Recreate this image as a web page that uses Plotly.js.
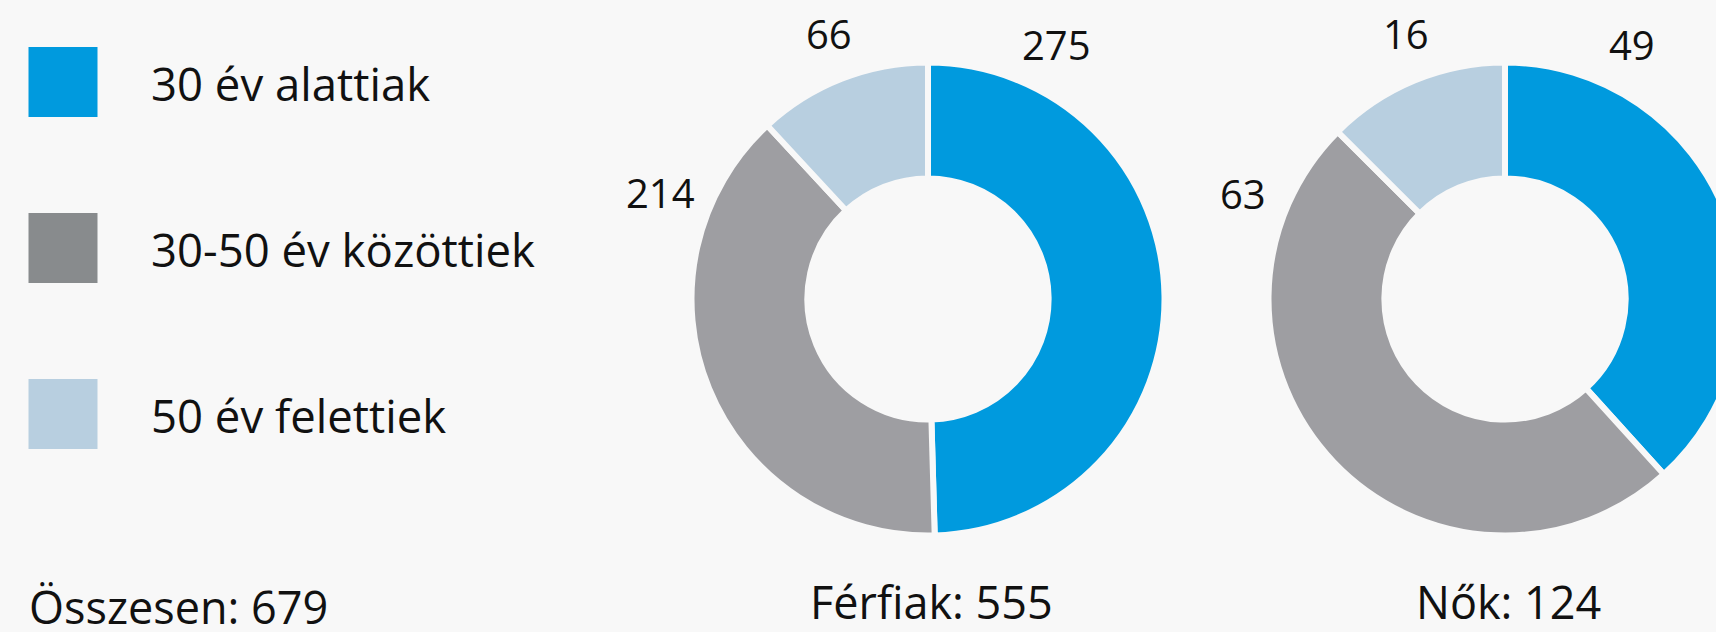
<!DOCTYPE html>
<html>
<head>
<meta charset="utf-8">
<script src="https://cdn.plot.ly/plotly-3.0.1.min.js"></script>
<style>
  html, body { margin: 0; padding: 0; background: #F8F8F8; overflow: hidden; width: 1716px; height: 632px; }
  #chart { width: 1800px; height: 632px; }
</style>
</head>
<body>
<div id="chart"></div>
<script>
// ---- data ----
const categories = ['30 év alattiak', '30-50 év közöttiek', '50 év felettiek'];
const maleValues = [275, 214, 66];
const femaleValues = [49, 63, 16];
const groupNames = ['Férfiak', 'Nők'];
const groupTotals = [555, 124];
const overallLabel = 'Összesen';
const overallTotal = 679;
const sliceColors = ['#009ADE', '#9E9EA2', '#B8CFE0'];
const legendColors = ['#009ADE', '#888B8D', '#B8CFE0'];

// ---- layout helpers (pixel -> paper) ----
const W = 1800, H = 632;
const px = x => x / W;
const py = y => 1 - y / H;
const FONT = '"Open Sans", "Noto Sans", sans-serif';
const TXT = '#111111';
const BG = '#F8F8F8';

const R = 236.5, HOLE = 0.51;
const centers = [[928, 299], [1505, 299]];
function domainFor(c) {
  return { x: [px(c[0] - R), px(c[0] + R)], y: [py(c[1] + R), py(c[1] - R)] };
}

const groupValues = [maleValues, femaleValues];
const traces = groupValues.map((vals, i) => ({
  type: 'pie',
  values: vals,
  labels: categories,
  hole: HOLE,
  sort: false,
  direction: 'clockwise',
  rotation: 0,
  textinfo: 'none',
  hoverinfo: 'label+value',
  showlegend: false,
  marker: { colors: sliceColors, line: { color: BG, width: 6 } },
  domain: domainFor(centers[i])
}));

// value label positions (pixel centres), per group, per category
const labelPos = [
  [[1056, 45], [660, 193], [829, 35]],
  [[1632, 45], [1243, 194], [1406, 35]]
];

const annotations = [];
groupValues.forEach((vals, g) => {
  vals.forEach((v, k) => {
    annotations.push({
      xref: 'paper', yref: 'paper',
      x: px(labelPos[g][k][0]), y: py(labelPos[g][k][1] - 1),
      xanchor: 'center', yanchor: 'middle',
      text: String(v), showarrow: false,
      font: { family: FONT, size: 40, color: TXT }
    });
  });
  annotations.push({
    xref: 'paper', yref: 'paper',
    x: px(centers[g][0] + 3), y: py(601),
    xanchor: 'center', yanchor: 'middle',
    text: groupNames[g] + ': ' + groupTotals[g], showarrow: false,
    font: { family: FONT, size: 45, color: TXT }
  });
});
annotations.push({
  xref: 'paper', yref: 'paper',
  x: px(27), y: py(606),
  xanchor: 'left', yanchor: 'middle',
  text: overallLabel + ': ' + overallTotal, showarrow: false,
  font: { family: FONT, size: 45, color: TXT }
});

// legend
const legendY = [82, 248, 414];
const shapes = [];
categories.forEach((c, k) => {
  shapes.push({
    type: 'rect', xref: 'paper', yref: 'paper',
    x0: px(28.5), x1: px(97.5),
    y0: py(legendY[k] - 35), y1: py(legendY[k] + 35),
    fillcolor: legendColors[k], line: { width: 0 }
  });
  annotations.push({
    xref: 'paper', yref: 'paper',
    x: px(149), y: py(legendY[k] + 1),
    xanchor: 'left', yanchor: 'middle',
    text: c, showarrow: false,
    font: { family: FONT, size: 45.5, color: TXT }
  });
});

const layout = {
  width: W, height: H,
  margin: { l: 0, r: 0, t: 0, b: 0, pad: 0 },
  paper_bgcolor: BG,
  plot_bgcolor: BG,
  showlegend: false,
  shapes: shapes,
  annotations: annotations,
  font: { family: FONT, color: TXT }
};

Plotly.newPlot('chart', traces, layout, { staticPlot: true, displayModeBar: false });
</script>
</body>
</html>
